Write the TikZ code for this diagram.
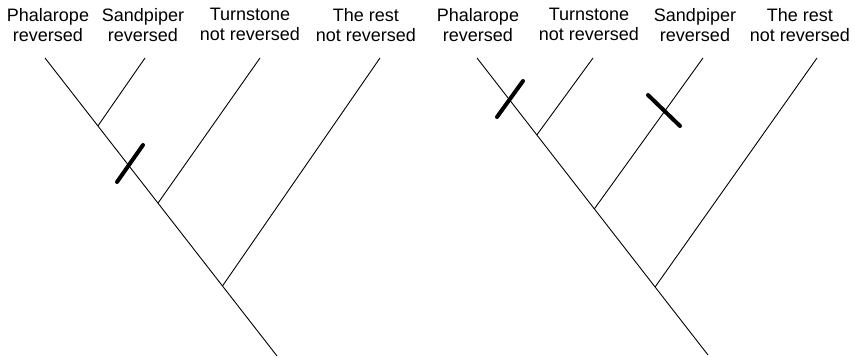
\documentclass[tikz,border=0pt]{standalone}
\usepackage{fontspec}
\setmainfont{Liberation Sans}
\usetikzlibrary{calc}
\begin{document}
\begin{tikzpicture}[x=1pt,y=-1pt,
  lbl/.style={anchor=north,align=center,inner sep=0pt,font=\fontsize{18}{20}\selectfont},
  branch/.style={line width=0.9pt,black},
  tickmark/.style={line width=4pt,line cap=round,black}]
\useasboundingbox (0,0) rectangle (855,358);
% ---------- left tree ----------
\node[lbl] (lp) at (48,8) {Phalarope\\reversed};
\node[lbl] (ls) at (143,8) {Sandpiper\\reversed};
\node[lbl] (lt) at (250,8) {Turnstone\\not reversed};
\node[lbl] (lr) at (366,8) {The rest\\not reversed};
\coordinate (L1) at (45,58);
\coordinate (L2) at (145,58);
\coordinate (L3) at (260,58);
\coordinate (L4) at (380,58);
\coordinate (LR) at (277,356);
\coordinate (LJ1) at ($(L1)!0.228!(LR)$);
\coordinate (LJ2) at ($(L1)!0.487!(LR)$);
\coordinate (LJ3) at ($(L1)!0.765!(LR)$);
\draw[branch] (L1) -- (LR);
\draw[branch] (LJ1) -- (L2);
\draw[branch] (LJ2) -- (L3);
\draw[branch] (LJ3) -- (L4);
\coordinate (LMa) at (117,182);
\coordinate (LMb) at (143,145);
\draw[tickmark] (LMa) -- (LMb);
% ---------- right tree ----------
\node[lbl] (rp) at (478,8) {Phalarope\\reversed};
\node[lbl] (rt) at (589,8) {Turnstone\\not reversed};
\node[lbl] (rs) at (695,8) {Sandpiper\\reversed};
\node[lbl] (rr) at (800,8) {The rest\\not reversed};
\coordinate (R1) at (477,58);
\coordinate (R2) at (593,58);
\coordinate (R3) at (703,58);
\coordinate (R4) at (817,58);
\coordinate (RR) at (708,355);
\coordinate (RJ1) at ($(R1)!0.259!(RR)$);
\coordinate (RJ2) at ($(R1)!0.508!(RR)$);
\coordinate (RJ3) at ($(R1)!0.771!(RR)$);
\draw[branch] (R1) -- (RR);
\draw[branch] (RJ1) -- (R2);
\draw[branch] (RJ2) -- (R3);
\draw[branch] (RJ3) -- (R4);
\coordinate (RMa) at (497,117);
\coordinate (RMb) at (523,81);
\draw[tickmark] (RMa) -- (RMb);
\coordinate (RMc) at (648,95);
\coordinate (RMd) at (680,126);
\draw[tickmark] (RMc) -- (RMd);
\end{tikzpicture}
\end{document}
